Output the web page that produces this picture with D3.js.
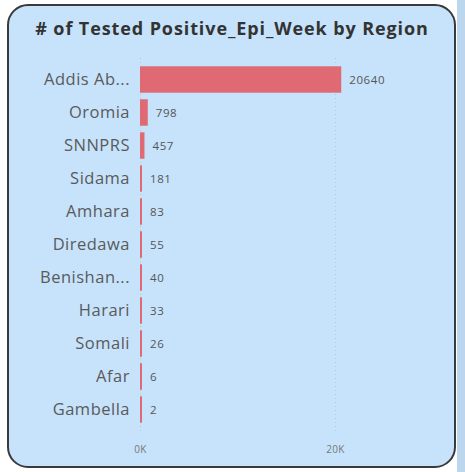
<!DOCTYPE html>
<html>
<head>
<meta charset="utf-8">
<script src="https://cdn.jsdelivr.net/npm/d3@7"></script>
<style>
  html, body { margin: 0; padding: 0; background: #ffffff; }
  svg { display: block; }
</style>
</head>
<body>
<div id="chart"></div>
<script>
// ------------------------------------------------------
// DATA
// ------------------------------------------------------
var regions = ["Addis Ab...", "Oromia", "SNNPRS", "Sidama", "Amhara", "Diredawa",
               "Benishan...", "Harari", "Somali", "Afar", "Gambella"];
var positives = [20640, 798, 457, 181, 83, 55, 40, 33, 26, 6, 2];
var xTicks = [0, 20000];
var tickLabels = ["0K", "20K"];
var chartTitle = "# of Tested Positive_Epi_Week by Region";

// ------------------------------------------------------
// DRAW
// ------------------------------------------------------
var width = 465, height = 472;

var svg = d3.select("#chart").append("svg")
    .attr("width", width)
    .attr("height", height);

// strip on the right edge
svg.append("rect")
    .attr("x", 457).attr("y", 0)
    .attr("width", 8).attr("height", height)
    .attr("fill", "#bcd6ee");

// card
svg.append("rect")
    .attr("x", 8).attr("y", 5)
    .attr("width", 447).attr("height", 462)
    .attr("rx", 20).attr("ry", 20)
    .attr("fill", "#c6e3fb")
    .attr("stroke", "#3a3a3a")
    .attr("stroke-width", 2);

svg.append("text")
    .attr("x", 232).attr("y", 35)
    .attr("text-anchor", "middle")
    .style("font-family", "'Open Sans', sans-serif")
    .style("font-weight", "bold")
    .style("font-size", "18px")
    .style("letter-spacing", "0.9px")
    .style("fill", "#333333")
    .text(chartTitle);

var x = d3.scaleLinear().domain([0, 20000]).range([140, 335]);
var y = d3.scaleBand().domain(regions).range([63, 426]).paddingInner(0.2).paddingOuter(0.1);

// dotted gridlines
svg.selectAll("line.grid")
    .data(xTicks)
    .enter().append("line")
    .attr("class", "grid")
    .attr("x1", function (d) { return x(d) + 0.5; })
    .attr("x2", function (d) { return x(d) + 0.5; })
    .attr("y1", 58).attr("y2", 432)
    .attr("stroke", "#b8c4d0")
    .attr("stroke-width", 1)
    .attr("stroke-dasharray", "1,3");

var xAxis = d3.axisBottom(x)
    .tickValues(xTicks)
    .tickFormat(function (d, i) { return tickLabels[i]; })
    .tickSize(0);

var gx = svg.append("g")
    .attr("transform", "translate(0,443)")
    .call(xAxis);
gx.select(".domain").remove();
gx.selectAll("text")
    .style("font-family", "'Open Sans', sans-serif")
    .style("font-size", "10px")
    .style("letter-spacing", "0.4px")
    .style("fill", "#777777");

var yAxis = d3.axisLeft(y).tickSize(0).tickPadding(10);
var gy = svg.append("g")
    .attr("transform", "translate(140,0)")
    .call(yAxis);
gy.select(".domain").remove();
gy.selectAll("text")
    .style("font-family", "'Open Sans', sans-serif")
    .style("font-size", "16.5px")
    .style("letter-spacing", "0.5px")
    .style("fill", "#5a5a5a");

svg.selectAll("rect.bar")
    .data(positives)
    .enter().append("rect")
    .attr("class", "bar")
    .attr("x", x(0))
    .attr("y", function (d, i) { return y(regions[i]); })
    .attr("width", function (d) { return Math.max(x(d) - x(0), 2); })
    .attr("height", y.bandwidth())
    .attr("fill", "#df6a73");

svg.selectAll("text.val")
    .data(positives)
    .enter().append("text")
    .attr("class", "val")
    .attr("x", function (d) { return Math.max(x(d), x(0) + 2) + 8; })
    .attr("y", function (d, i) { return y(regions[i]) + y.bandwidth() / 2; })
    .attr("dy", "0.35em")
    .style("font-family", "'Open Sans', sans-serif")
    .style("font-size", "11.5px")
    .style("letter-spacing", "0.6px")
    .style("fill", "#555555")
    .text(function (d) { return d; });
</script>
</body>
</html>
